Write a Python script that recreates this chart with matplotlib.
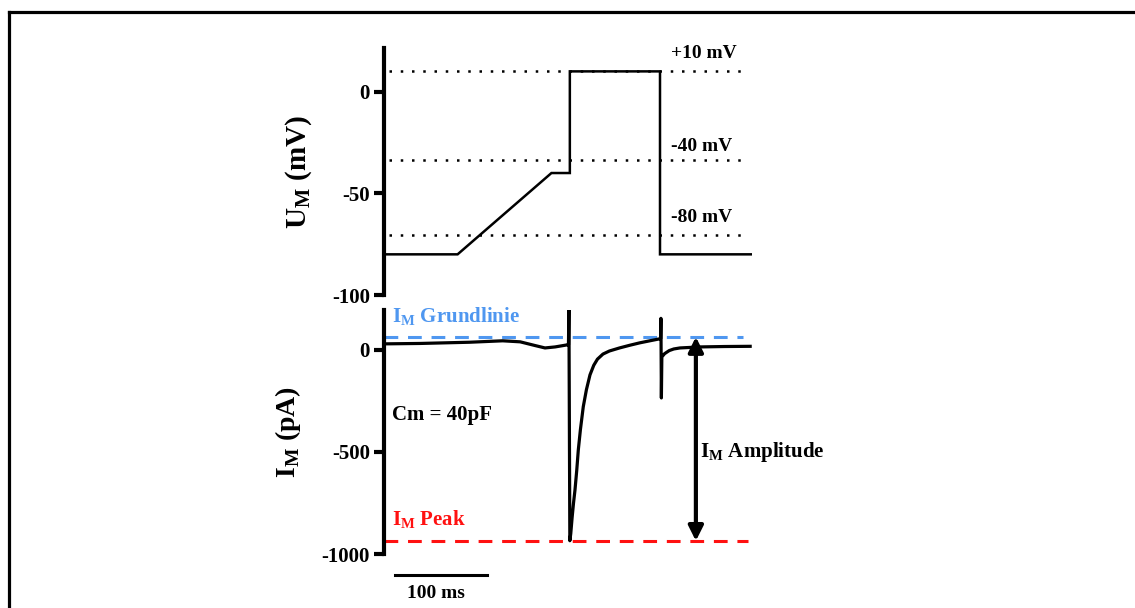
import matplotlib
matplotlib.use("Agg")
import matplotlib.pyplot as plt
from matplotlib.lines import Line2D

plt.rcParams["font.family"] = "Liberation Serif"
plt.rcParams["font.weight"] = "bold"
plt.rcParams["axes.labelweight"] = "bold"
plt.rcParams["axes.unicode_minus"] = False
plt.rcParams["mathtext.fontset"] = "custom"
plt.rcParams["mathtext.rm"] = "Liberation Serif:bold"

# voltage protocol (ms, mV)
v_time = [0, 80, 182, 202, 202, 300, 300, 400]
v_volt = [-80, -80, -40, -40, 10, 10, -80, -80]
v_ref_levels = [10, -33.5, -70.5]
v_ref_labels = ["+10 mV", "-40 mV", "-80 mV"]
v_ref_label_y = [16.6, -29.2, -64.1]

# membrane current (ms, pA)
i_time = [0, 39, 93, 129, 148, 164, 175, 186, 199, 200.5, 201, 202,
          203, 204.5, 206, 207.6, 209.5, 211.2, 213.5, 216.6, 220, 223.9,
          228, 232, 238, 245, 256, 267, 278, 290,
          300, 300.6, 301, 301.5, 302, 305, 310, 315, 321.7, 343.5, 370, 398]
i_curr = [30, 32, 38, 45, 40, 22, 10, 15, 25, 25, 205, -935,
          -900, -820, -750, -686, -590, -490, -390, -278, -195, -122,
          -75, -45, -20, -5, 10, 23, 35, 46,
          55, 55, 155, -235, -34, -18, -3, 5, 10, 15, 17, 18]

baseline = 64
peak = -936
arrow_t = 339

fig = plt.figure(figsize=(11.35, 6.08), dpi=100)

# frame lines (top and left)
fig.add_artist(Line2D([8.5 / 1135, 1], [1 - 11.5 / 608] * 2, color="black", lw=2.3))
fig.add_artist(Line2D([8.5 / 1135] * 2, [0, 1 - 11.5 / 608], color="black", lw=2.3))

ax1 = fig.add_axes([384 / 1135, 1 - 295 / 608, 368 / 1135, 247 / 608])
ax2 = fig.add_axes([384 / 1135, 1 - 554 / 608, 368 / 1135, 244 / 608])

for ax in (ax1, ax2):
    for s in ("top", "right", "bottom"):
        ax.spines[s].set_visible(False)
    ax.spines["left"].set_linewidth(3)
    ax.set_xticks([])
    ax.tick_params(axis="y", width=3, length=7, labelsize=15, pad=3)
    ax.set_xlim(0, 400)

# top: voltage
ax1.set_ylim(-100, 21.5)
ax1.set_yticks([0, -50, -100])
for lvl in v_ref_levels:
    ax1.plot([5, 396], [lvl, lvl], color="black", lw=1.8, ls=(0, (1, 3.5)))
ax1.plot(v_time, v_volt, color="black", lw=1.8, solid_joinstyle="miter")
for lab, y in zip(v_ref_labels, v_ref_label_y):
    ax1.text(312, y, lab, fontsize=14, ha="left", va="baseline")
ax1.set_ylabel(r"U$_\mathregular{M}$ (mV)", fontsize=21)
ax1.yaxis.set_label_coords(-0.19, 0.5)

# bottom: current
ax2.set_ylim(-1000, 196)
ax2.set_yticks([0, -500, -1000])
ax2.plot([0, 390], [baseline, baseline], color="#4f97f0", lw=2.2, ls=(0, (4.5, 3.2)))
ax2.plot([0, 396], [peak, peak], color="#ff1111", lw=2.2, ls=(0, (4.5, 3.2)))
ax2.plot(i_time, i_curr, color="black", lw=2.3)
ax2.annotate("", xy=(arrow_t, peak), xytext=(arrow_t, baseline),
             arrowprops=dict(arrowstyle="<|-|>", color="black", lw=3,
                             mutation_scale=22, shrinkA=0, shrinkB=0))
ax2.text(8.7, 137, r"I$_\mathregular{M}$ Grundlinie", color="#4f97f0",
         fontsize=15, ha="left", va="baseline")
ax2.text(8.7, -858, r"I$_\mathregular{M}$ Peak", color="#ff1111",
         fontsize=15, ha="left", va="baseline")
ax2.text(8.7, -343, "Cm = 40pF", fontsize=15, ha="left", va="baseline")
ax2.text(343.5, -525, r"I$_\mathregular{M}$ Amplitude", fontsize=15,
         ha="left", va="baseline")
ax2.plot([12, 112], [-1103, -1103], color="black", lw=2.2, clip_on=False)
ax2.text(56.5, -1150, "100 ms", fontsize=14, ha="center", va="top")
ax2.set_ylabel(r"I$_\mathregular{M}$ (pA)", fontsize=20)
ax2.yaxis.set_label_coords(-0.22, 0.5)

fig.savefig("out.png", dpi=100)
